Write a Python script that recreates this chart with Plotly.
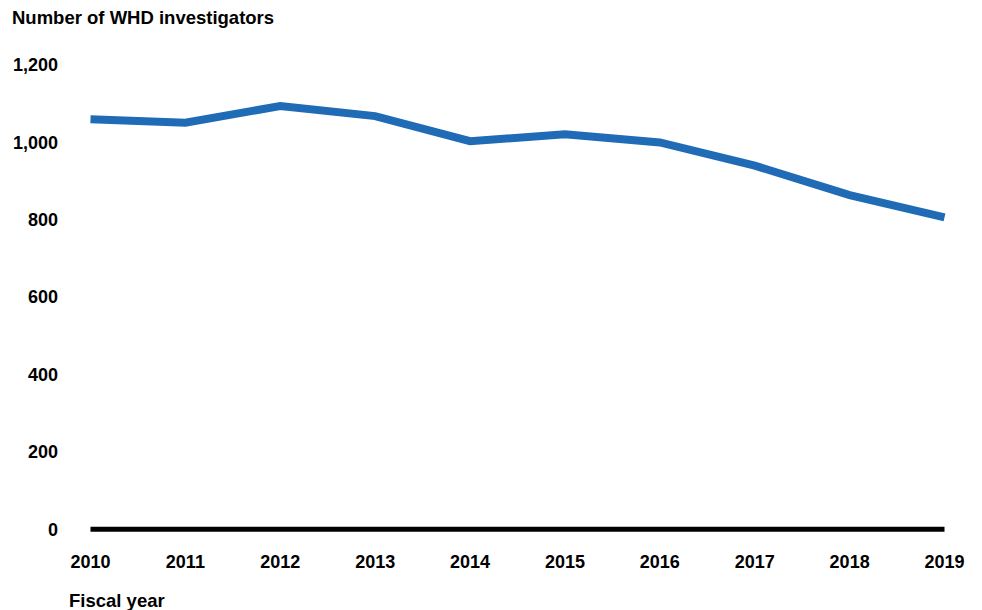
import plotly.graph_objects as go

years = [2010, 2011, 2012, 2013, 2014, 2015, 2016, 2017, 2018, 2019]
investigators = [1060, 1051, 1094, 1068, 1003, 1021, 1000, 940, 864, 806]
y_ticks = [0, 200, 400, 600, 800, 1000, 1200]
y_tick_labels = ["0", "200", "400", "600", "800", "1,000", "1,200"]

FONT = "Liberation Sans, Arial, sans-serif"
PW, PH = 873, 468.6

fig = go.Figure()
fig.add_trace(go.Scatter(
    x=years, y=investigators, mode="lines",
    line=dict(color="#1F6BB5", width=8),
    hoverinfo="skip", cliponaxis=False,
))

# baseline at zero spanning the years
fig.add_shape(type="line", x0=years[0], x1=years[-1], y0=0, y1=0,
              xref="x", yref="y", line=dict(color="black", width=5), layer="below")

fig.update_layout(
    width=982, height=610,
    margin=dict(l=73, r=36, t=57, b=84, autoexpand=False),
    paper_bgcolor="white", plot_bgcolor="white",
    showlegend=False,
    font=dict(family=FONT, size=18, color="black"),
    xaxis=dict(
        range=[2009.9, 2019.1], tickmode="array", tickvals=years,
        ticktext=[str(y) for y in years], showgrid=False, zeroline=False,
        showline=False, ticks="", ticklabelstandoff=15,
        tickfont=dict(family=FONT, size=18, color="black", weight="bold"),
    ),
    yaxis=dict(
        range=[-12, 1200], tickmode="array", tickvals=y_ticks, ticktext=y_tick_labels,
        showgrid=False, zeroline=False, showline=False, ticks="",
        ticklabelstandoff=22,
        tickfont=dict(family=FONT, size=18, color="black", weight="bold"),
    ),
    annotations=[
        dict(text="<b>Number of WHD investigators</b>", xref="paper", yref="paper",
             x=-71/PW, y=1 + 47/PH, xanchor="left", yanchor="middle",
             showarrow=False, font=dict(family=FONT, size=18.5, color="black")),
        dict(text="<b>Fiscal year</b>", xref="paper", yref="paper",
             x=-14/PW, y=-66/PH, xanchor="left", yanchor="middle",
             showarrow=False, font=dict(family=FONT, size=18.5, color="black")),
    ],
)

fig.write_html("out.html")
